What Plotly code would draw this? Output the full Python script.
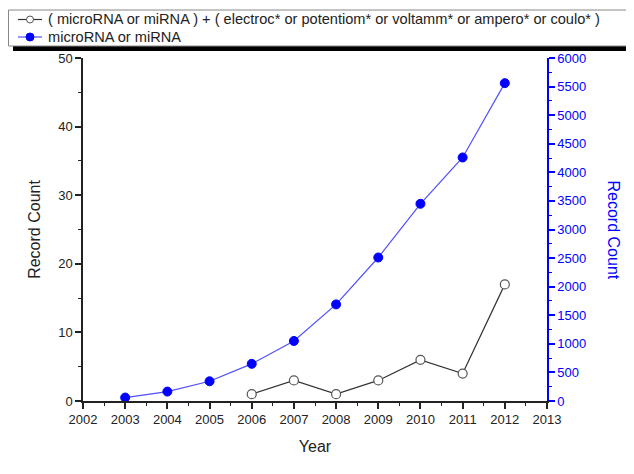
import plotly.graph_objects as go

years_all = [2003, 2004, 2005, 2006, 2007, 2008, 2009, 2010, 2011, 2012]
mirna_counts = [60, 165, 345, 650, 1050, 1690, 2510, 3450, 4260, 5560]
years_echem = [2006, 2007, 2008, 2009, 2010, 2011, 2012]
echem_counts = [1, 3, 1, 3, 6, 4, 17]

name_echem = "( microRNA or miRNA ) + ( electroc* or potentiom* or voltamm* or ampero* or coulo* )"
name_mirna = "microRNA or miRNA"

FONT = "Liberation Sans, Arial, sans-serif"
BLACK_LINE = "#333333"
BLACK_EDGE = "#555555"
BLUE_LINE = "#5050ff"
BLUE = "#0000ff"

W, H = 626, 466
L, R, T, B = 75, 87, 50, 73
PW, PH = W - L - R, H - T - B


def px(fx):
    return (fx - L) / PW


def py(fy):
    return (H - B - fy) / PH


fig = go.Figure()
fig.add_trace(go.Scatter(
    x=years_echem, y=echem_counts, name=name_echem, mode="lines+markers",
    line=dict(color=BLACK_LINE, width=1.2),
    marker=dict(symbol="circle", size=9, color="white", line=dict(color=BLACK_EDGE, width=1.2)),
    yaxis="y"))
fig.add_trace(go.Scatter(
    x=years_all, y=mirna_counts, name=name_mirna, mode="lines+markers",
    line=dict(color=BLUE_LINE, width=1.2),
    marker=dict(symbol="circle", size=9, color=BLUE, line=dict(color=BLUE, width=1)),
    yaxis="y2"))

# legend drawn as a framed box with a drop shadow
row_y = [11.5, 29.0]
sym_x0, sym_x1, sym_c = 10, 34, 22
legend_shapes = [
    dict(type="rect", xref="paper", yref="paper", x0=px(5), x1=px(626), y0=py(43), y1=py(6),
         fillcolor="black", line=dict(width=0)),
    dict(type="rect", xref="paper", yref="paper", x0=px(0.5), x1=px(622), y0=py(38), y1=py(2),
         fillcolor="white", line=dict(color="#888888", width=1)),
    dict(type="line", xref="paper", yref="paper", x0=px(sym_x0), x1=px(sym_x1),
         y0=py(row_y[0]), y1=py(row_y[0]), line=dict(color=BLACK_LINE, width=1.2)),
    dict(type="line", xref="paper", yref="paper", x0=px(sym_x0), x1=px(sym_x1),
         y0=py(row_y[1]), y1=py(row_y[1]), line=dict(color=BLUE_LINE, width=1.2)),
    dict(type="circle", xref="paper", yref="paper", xsizemode="pixel", ysizemode="pixel",
         xanchor=px(sym_c), yanchor=py(row_y[0]), x0=-3.5, x1=3.5, y0=-3.5, y1=3.5,
         fillcolor="white", line=dict(color=BLACK_EDGE, width=1)),
    dict(type="circle", xref="paper", yref="paper", xsizemode="pixel", ysizemode="pixel",
         xanchor=px(sym_c), yanchor=py(row_y[1]), x0=-4, x1=4, y0=-4, y1=4,
         fillcolor=BLUE, line=dict(color=BLUE, width=1)),
]
legend_texts = [
    dict(text=name_echem, xref="paper", yref="paper", x=px(38), y=py(row_y[0]),
         xanchor="left", yanchor="middle", showarrow=False,
         font=dict(size=14.6, color="#222222", family=FONT)),
    dict(text=name_mirna, xref="paper", yref="paper", x=px(38), y=py(row_y[1]),
         xanchor="left", yanchor="middle", showarrow=False,
         font=dict(size=14.6, color="#222222", family=FONT)),
]

fig.update_layout(
    width=W, height=H,
    margin=dict(l=L, r=R, t=T, b=B, autoexpand=False),
    paper_bgcolor="white", plot_bgcolor="white",
    font=dict(family=FONT, size=13, color="#222222"),
    showlegend=False,
    xaxis=dict(
        range=[2002, 2013], dtick=1, tick0=2002, automargin=False,
        showgrid=False, zeroline=False,
        showline=True, linecolor="#222222", linewidth=1.5,
        ticks="outside", ticklen=6, tickwidth=1.5, tickcolor="#222222",
        minor=dict(dtick=0.5, ticks="outside", ticklen=3, tickwidth=1, tickcolor="#222222"),
        title=dict(text="Year", font=dict(size=16, color="#222222"), standoff=14),
        tickfont=dict(size=13, color="#222222"),
    ),
    yaxis=dict(
        range=[0, 50], dtick=10, automargin=False, showgrid=False, zeroline=False,
        showline=True, linecolor="#222222", linewidth=1.5,
        ticks="outside", ticklen=6, tickwidth=1.5, tickcolor="#222222",
        minor=dict(dtick=5, ticks="outside", ticklen=3, tickwidth=1, tickcolor="#222222"),
        title=dict(text="Record Count", font=dict(size=16, color="#222222"), standoff=14),
        tickfont=dict(size=13, color="#222222"),
    ),
    yaxis2=dict(
        range=[0, 6000], dtick=500, overlaying="y", side="right", anchor="x", automargin=False,
        showgrid=False, zeroline=False,
        showline=True, linecolor=BLUE, linewidth=1.5,
        ticks="outside", ticklen=6, tickwidth=1.5, tickcolor=BLUE,
        minor=dict(dtick=250, ticks="outside", ticklen=3, tickwidth=1, tickcolor=BLUE),
        tickfont=dict(size=13, color=BLUE),
    ),
    annotations=[dict(
        text="Record Count", textangle=90, xref="paper", yref="paper",
        x=px(605), y=0.5, xanchor="center", yanchor="middle", showarrow=False,
        font=dict(size=16, color=BLUE, family=FONT))] + legend_texts,
    shapes=legend_shapes,
)

fig.write_html("out.html")
